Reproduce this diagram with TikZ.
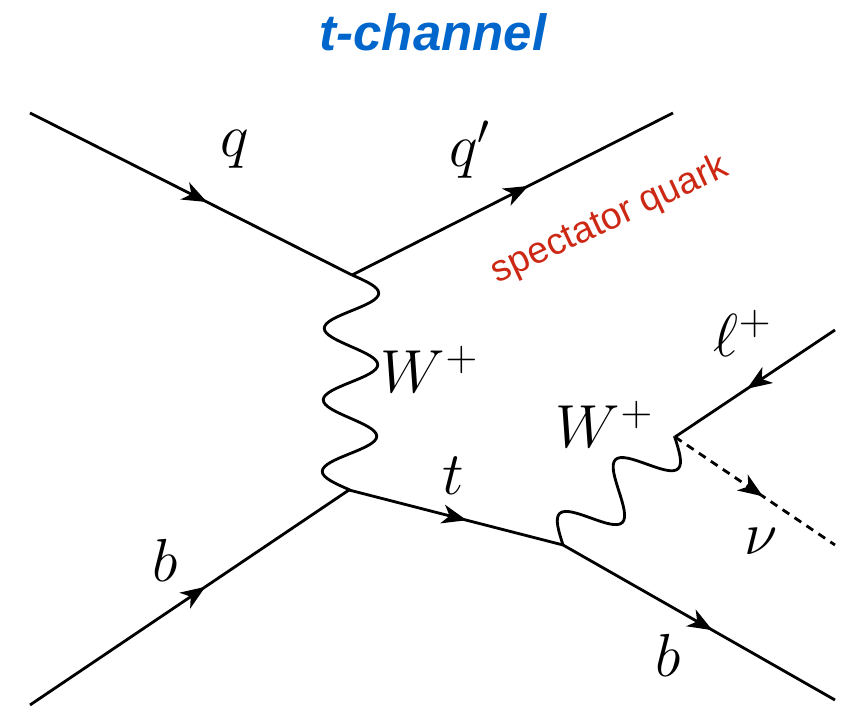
\documentclass[tikz,border=0pt]{standalone}
\usepackage{fontspec}
\usetikzlibrary{arrows.meta,decorations.markings}
\newfontfamily\headfont{Liberation Sans}
\definecolor{chanblue}{RGB}{0,102,204}
\definecolor{specred}{RGB}{204,40,20}
\pgfdeclaredecoration{wavy}{initial}{
  \state{initial}[width=\pgfdecorationsegmentlength]{
    \pgfpathcurveto{\pgfpoint{.0815\pgfdecorationsegmentlength}{.512\pgfdecorationsegmentamplitude}}{\pgfpoint{.1595\pgfdecorationsegmentlength}{\pgfdecorationsegmentamplitude}}{\pgfpoint{.25\pgfdecorationsegmentlength}{\pgfdecorationsegmentamplitude}}
    \pgfpathcurveto{\pgfpoint{.3405\pgfdecorationsegmentlength}{\pgfdecorationsegmentamplitude}}{\pgfpoint{.4185\pgfdecorationsegmentlength}{.512\pgfdecorationsegmentamplitude}}{\pgfpoint{.5\pgfdecorationsegmentlength}{0pt}}
    \pgfpathcurveto{\pgfpoint{.5815\pgfdecorationsegmentlength}{-.512\pgfdecorationsegmentamplitude}}{\pgfpoint{.6595\pgfdecorationsegmentlength}{-\pgfdecorationsegmentamplitude}}{\pgfpoint{.75\pgfdecorationsegmentlength}{-\pgfdecorationsegmentamplitude}}
    \pgfpathcurveto{\pgfpoint{.8405\pgfdecorationsegmentlength}{-\pgfdecorationsegmentamplitude}}{\pgfpoint{.9185\pgfdecorationsegmentlength}{-.512\pgfdecorationsegmentamplitude}}{\pgfpoint{\pgfdecorationsegmentlength}{0pt}}
  }
  \state{final}{\pgfpathlineto{\pgfpointdecoratedpathlast}}
}

\begin{document}
\begin{tikzpicture}[x=0.01cm,y=-0.01cm]
\tikzstyle{fermion}=[line width=0.8pt,postaction={decorate},decoration={markings,mark=at position 0.55 with {\arrow{Stealth[length=7pt,width=5.4pt,inset=2pt]}}}]
\tikzstyle{scalar}=[fermion,dash pattern=on 2.3pt off 1.8pt]
\tikzstyle{boson}=[line width=0.8pt,decorate,decoration={wavy,amplitude=0.27cm}]
\tikzstyle{lab}=[inner sep=0pt,font=\LARGE]
\useasboundingbox (0,0) rectangle (853,716);
\coordinate (qin) at (30,113);
\coordinate (qout) at (673,113);
\coordinate (bin) at (30,705);
\coordinate (bout) at (835,700);
\coordinate (lep) at (835,330);
\coordinate (nuend) at (835,545);
\coordinate (v1) at (352,275);
\coordinate (v2) at (349,490);
\coordinate (v3) at (563,545);
\coordinate (v4) at (675,437);
\node[font=\headfont\bfseries\itshape\fontsize{14.5}{17}\selectfont,text=chanblue] (title) at (433,32) {t-channel};
\node[font=\headfont\fontsize{10.6}{12}\selectfont,text=specred,rotate=25] (spec) at (610,220) {spectator quark};
\node[lab] (q) at (235,149) {$q$};
\node[lab] (qp) at (470,150) {$q'$};
\node[lab] (wa) at (430,369) {$W^+$};
\node[lab] (t) at (453,476) {$t$};
\node[lab] (ba) at (165,560) {$b$};
\node[lab] (bb) at (668,655) {$b$};
\node[lab] (wb) at (605,424) {$W^+$};
\node[lab] (l) at (743,333) {$\ell^+$};
\node[lab] (nu) at (761,541) {$\nu$};
\draw[fermion] (qin)--(v1); \draw[fermion] (v1)--(qout);
\draw[fermion] (bin)--(v2); \draw[fermion] (v2)--(v3); \draw[fermion] (v3)--(bout);
\draw[fermion] (lep)--(v4); \draw[scalar] (v4)--(nuend);
\draw[boson,decoration={segment length=0.715cm}] (v1)--(v2);
\draw[boson,decoration={segment length=0.776cm,amplitude=0.25cm}] (v3)--(v4);
\end{tikzpicture}
\end{document}
